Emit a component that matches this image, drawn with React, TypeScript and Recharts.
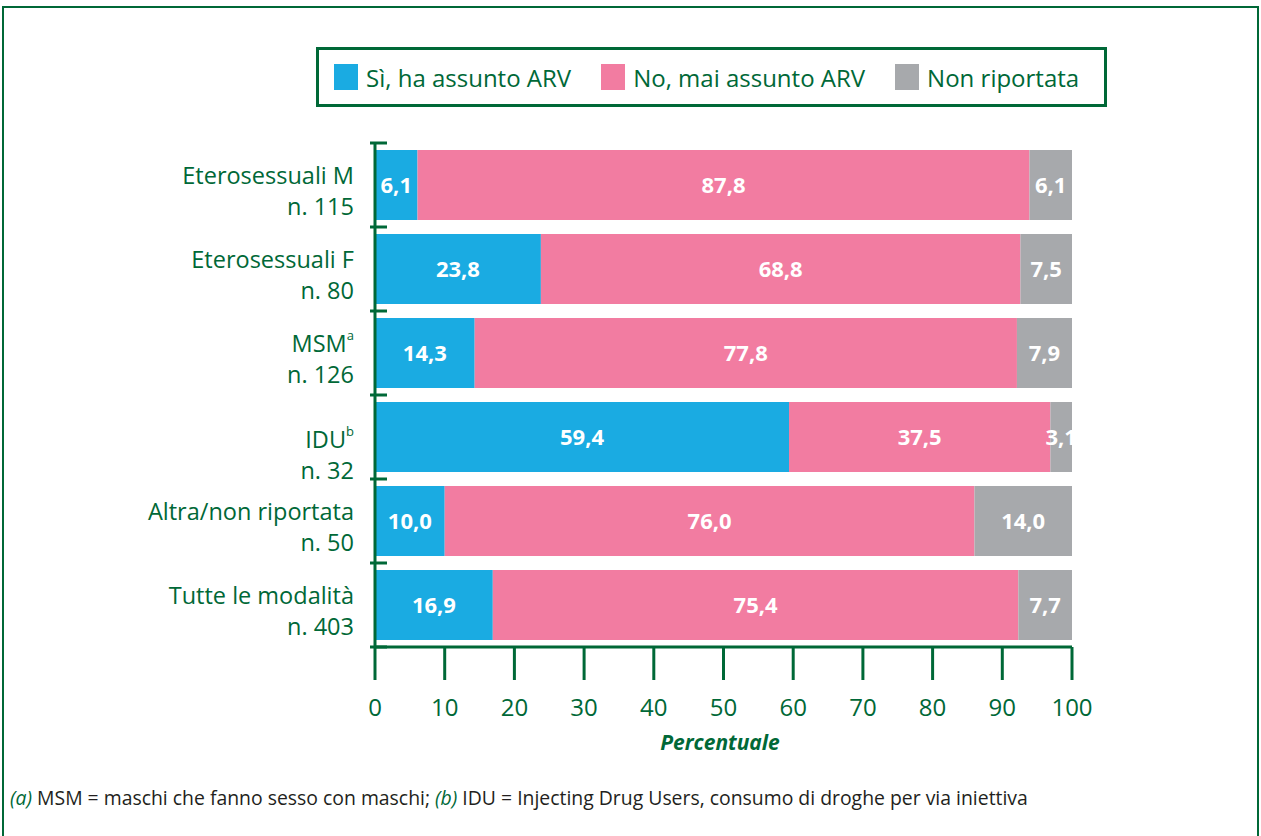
import React from "react";
import { BarChart, Bar, XAxis, YAxis, LabelList } from "recharts";

// ── Data ──────────────────────────────────────────────────────────────────────

const categories = [
  "Eterosessuali M",
  "Eterosessuali F",
  "MSM",
  "IDU",
  "Altra/non riportata",
  "Tutte le modalità",
];
const superscripts = ["", "", "a", "b", "", ""];
const sampleSizes = ["n. 115", "n. 80", "n. 126", "n. 32", "n. 50", "n. 403"];

const siArv = [6.1, 23.8, 14.3, 59.4, 10.0, 16.9];
const noArv = [87.8, 68.8, 77.8, 37.5, 76.0, 75.4];
const nonRiportata = [6.1, 7.5, 7.9, 3.1, 14.0, 7.7];

const xTicks = [0, 10, 20, 30, 40, 50, 60, 70, 80, 90, 100];

const seriesNames = ["Sì, ha assunto ARV", "No, mai assunto ARV", "Non riportata"];

// ── Styles ────────────────────────────────────────────────────────────────────

const GREEN = "#006837";
const COLORS = ["#1AABE2", "#F27CA1", "#A7A9AC"];
const FONT = "'Open Sans', sans-serif";

const W = 1261;
const H = 836;
const PLOT_TOP = 143;
const PLOT_BOTTOM = 647;
const BAND = (PLOT_BOTTOM - PLOT_TOP) / categories.length;

const data = categories.map((c, i) => ({
  name: c,
  si: siArv[i],
  no: noArv[i],
  nr: nonRiportata[i],
}));

const fmt = (v: any) => Number(v).toFixed(1).replace(".", ",");

function CategoryTick(props: any) {
  const { x, y, payload, index } = props;
  const i = index ?? categories.indexOf(payload.value);
  const axisX = x + 20;
  const shift = categories[i] === "IDU" ? 12 : 0;
  const isLast = i === categories.length - 1;
  return (
    <g>
      {/* bracket ticks at band boundaries */}
      <line x1={axisX - 17} x2={axisX} y1={y - BAND / 2} y2={y - BAND / 2} stroke={GREEN} strokeWidth={3} />
      {isLast && (
        <line x1={axisX - 17} x2={axisX} y1={y + BAND / 2} y2={y + BAND / 2} stroke={GREEN} strokeWidth={3} />
      )}
      <text
        x={x - 13}
        y={y - 10 + shift}
        textAnchor="end"
        dominantBaseline="central"
        fill={GREEN}
        fontSize={23.5}
        fontFamily={FONT}
      >
        {payload.value}
        {superscripts[i] && (
          <tspan fontSize={13} dy={-8}>
            {superscripts[i]}
          </tspan>
        )}
      </text>
      <text
        x={x - 13}
        y={y + 21 + shift}
        textAnchor="end"
        dominantBaseline="central"
        fill={GREEN}
        fontSize={23.5}
        fontFamily={FONT}
      >
        {sampleSizes[i]}
      </text>
    </g>
  );
}

function LegendBox() {
  return (
    <div
      style={{
        position: "absolute",
        left: 316,
        top: 47,
        width: 785,
        height: 54,
        border: `3px solid ${GREEN}`,
        display: "flex",
        alignItems: "center",
        fontFamily: FONT,
        fontSize: 24,
        color: GREEN,
        boxSizing: "content-box",
      }}
    >
      {seriesNames.map((s, i) => (
        <div key={s} style={{ display: "flex", alignItems: "center", marginLeft: i === 0 ? 15 : 30 }}>
          <span style={{ width: 24, height: 26, background: COLORS[i], display: "inline-block", marginRight: 8 }} />
          <span>{s}</span>
        </div>
      ))}
    </div>
  );
}

export default function App() {
  return (
    <div
      style={{
        position: "fixed",
        left: 0,
        top: 0,
        width: W,
        height: H,
        background: "#fff",
        overflow: "hidden",
        fontFamily: FONT,
      }}
    >
      {/* outer frame */}
      <div
        style={{
          position: "absolute",
          left: 2,
          top: 6,
          width: 1253,
          height: 860,
          border: `2px solid ${GREEN}`,
        }}
      />
      <LegendBox />
      <div style={{ position: "absolute", left: 0, top: 0 }}>
        <BarChart
          width={W}
          height={H}
          data={data}
          layout="vertical"
          margin={{ top: PLOT_TOP, right: 189, bottom: H - PLOT_BOTTOM - 60, left: 175 }}
          barCategoryGap={7}
        >
          <XAxis
            type="number"
            domain={[0, 100]}
            ticks={xTicks}
            allowDataOverflow
            height={60}
            axisLine={{ stroke: GREEN, strokeWidth: 3 }}
            tickLine={{ stroke: GREEN, strokeWidth: 3 }}
            tickSize={33}
            tickMargin={19}
            tick={{ fill: GREEN, fontSize: 24, fontFamily: FONT }}
          />
          <YAxis
            type="category"
            dataKey="name"
            width={200}
            axisLine={{ stroke: GREEN, strokeWidth: 3 }}
            tickLine={false}
            tick={<CategoryTick />}
            interval={0}
          />
          {(["si", "no", "nr"] as const).map((k, i) => (
            <Bar key={k} dataKey={k} stackId="a" fill={COLORS[i]} isAnimationActive={false}>
              <LabelList
                dataKey={k}
                position="center"
                formatter={fmt}
                fill="#fff"
                fontSize={22}
                fontWeight={700}
                fontFamily={FONT}
              />
            </Bar>
          ))}
        </BarChart>
      </div>
      <div
        style={{
          position: "absolute",
          left: 620,
          width: 200,
          top: 728,
          textAlign: "center",
          fontWeight: 700,
          fontStyle: "italic",
          fontSize: 21,
          color: GREEN,
        }}
      >
        Percentuale
      </div>
      <div
        style={{
          position: "absolute",
          left: 10,
          top: 784,
          fontSize: 19.4,
          color: "#231F20",
          whiteSpace: "nowrap",
        }}
      >
        <span style={{ fontStyle: "italic", color: GREEN }}>(a)</span> MSM = maschi che fanno sesso con maschi;{" "}
        <span style={{ fontStyle: "italic", color: GREEN }}>(b)</span> IDU = Injecting Drug Users, consumo di droghe per
        via iniettiva
      </div>
    </div>
  );
}
